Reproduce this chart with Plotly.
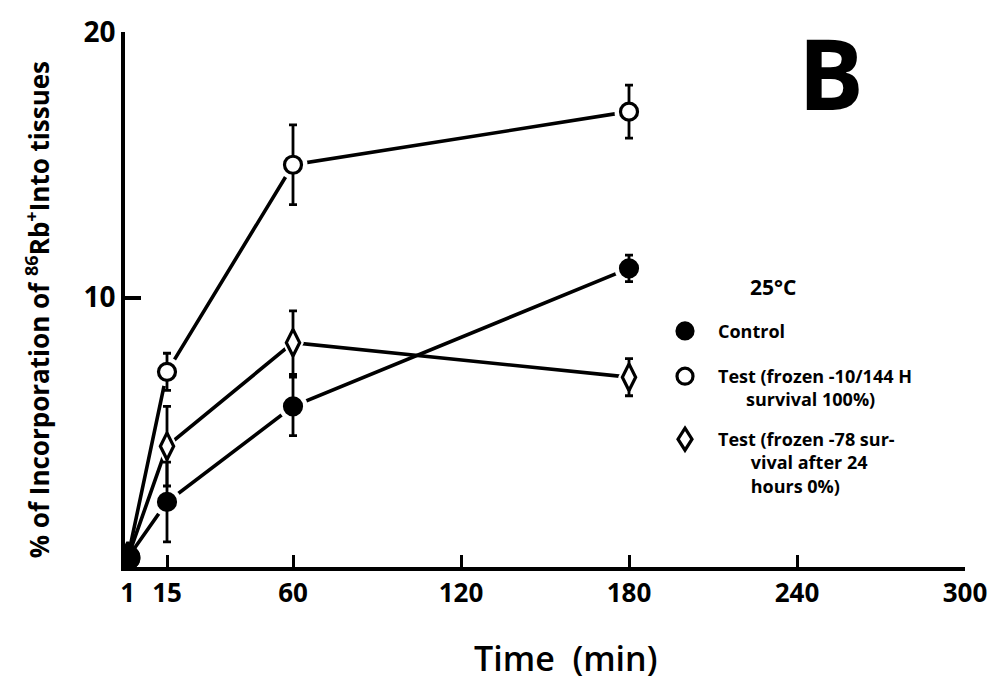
import plotly.graph_objects as go

# ---- data ----
times = [1, 15, 60, 180]
control = [0.2, 2.3, 5.9, 11.1]
control_err = [0, 1.5, 1.1, 0.5]
test_m10 = [0.2, 7.2, 15.0, 17.0]
test_m10_err = [0, 0.7, 1.5, 1.0]
test_m78 = [0.2, 4.4, 8.3, 7.0]
test_m78_err = [0, 1.5, 1.2, 0.7]

x_tickvals = [1, 15, 60, 120, 180, 240, 300]
x_ticktext = ["1", "15", "60", "120", "180", "240", "300"]
y_tickvals = [10, 20]
y_ticktext = ["10", "20"]

FONT = "Open Sans"
BLACK = "#000000"
NB = "\u00a0"

fig = go.Figure()

series = [
    (control, control_err, "circle", BLACK, 17),
    (test_m10, test_m10_err, "circle", "#ffffff", 17),
    (test_m78, test_m78_err, "diamond-tall", "#ffffff", 19),
]

# connecting lines
for ys, errs, sym, fill, sz in series:
    fig.add_trace(go.Scatter(x=times, y=ys, mode="lines", opacity=1,
                             line=dict(color=BLACK, width=3.6),
                             showlegend=False, hoverinfo="skip"))
# white halos to create gaps between lines and markers
for ys, errs, sym, fill, sz in series:
    fig.add_trace(go.Scatter(x=times[1:], y=ys[1:], mode="markers", opacity=1,
                             marker=dict(symbol=sym, size=sz + 12, color="#ffffff",
                                         opacity=1, line=dict(width=0)),
                             showlegend=False, hoverinfo="skip"))
# markers with error bars
for ys, errs, sym, fill, sz in series:
    colors = [BLACK] + [fill] * (len(ys) - 1)
    sizes = [22] + [sz] * (len(ys) - 1)
    fig.add_trace(go.Scatter(x=times, y=ys, mode="markers", opacity=1,
                             marker=dict(symbol=sym, size=sizes, color=colors,
                                         opacity=1,
                                         line=dict(color=BLACK, width=3.2)),
                             error_y=dict(type="data", array=errs, visible=True,
                                          color=BLACK, thickness=2.8, width=4),
                             showlegend=False, hoverinfo="skip"))

# ---- legend (manual) ----
L, R, T, B = 125, 965, 23, 567
def px(x):
    return (x - L) / (R - L)
def py(y):
    return (B - y) / (B - T)

shapes = []
sx = px(685)
for yy, kind in [(327, "filled"), (373, "open"), (437, "diamond")]:
    if kind == "diamond":
        shapes.append(dict(type="path", xref="paper", yref="paper",
                           xsizemode="pixel", ysizemode="pixel",
                           xanchor=sx, yanchor=py(yy),
                           path="M 0 11 L 7 0 L 0 -11 L -7 0 Z",
                           fillcolor="#ffffff", line=dict(color=BLACK, width=3.2)))
    else:
        shapes.append(dict(type="circle", xref="paper", yref="paper",
                           xsizemode="pixel", ysizemode="pixel",
                           xanchor=sx, yanchor=py(yy),
                           x0=-8, x1=8, y0=-8, y1=8,
                           fillcolor=BLACK if kind == "filled" else "#ffffff",
                           line=dict(color=BLACK, width=3.2)))

annotations = []
def txt(x, y, s, size=18, xanchor="left", yanchor="top"):
    annotations.append(dict(x=px(x), y=py(y), xref="paper", yref="paper",
                            text=s, showarrow=False, xanchor=xanchor,
                            yanchor=yanchor, align="left",
                            font=dict(family=FONT, size=size, color=BLACK,
                                      weight="bold")))

txt(773, 266, "25°C", size=21, xanchor="center")
txt(716, 313, "Control")
txt(716, 359, "Test (frozen -10/144 H<br>" + NB * 6 + "survival 100%)")
txt(716, 423, "Test (frozen -78 sur-<br>" + NB * 7 + "vival after 24<br>"
    + NB * 7 + "hours 0%)")

# panel letter
annotations.append(dict(x=px(831), y=py(77), xref="paper", yref="paper",
                        text="B", showarrow=False, xanchor="center",
                        yanchor="middle", yshift=13,
                        font=dict(family=FONT, size=98, color=BLACK,
                                  weight="bold")))

# axis titles
annotations.append(dict(x=px(38), y=py(306), xref="paper", yref="paper",
                        text="% of Incorporation of <sup>86</sup>Rb<sup>+</sup>Into tissues",
                        textangle=-90, showarrow=False, xanchor="center",
                        yanchor="middle",
                        font=dict(family=FONT, size=26, color=BLACK,
                                  weight="bold")))
annotations.append(dict(x=px(565), y=py(660), xref="paper", yref="paper",
                        text="Time  (min)", showarrow=False, xanchor="center",
                        yanchor="middle",
                        font=dict(family=FONT, size=34, color=BLACK,
                                  weight=600)))

fig.update_layout(
    width=1006, height=682,
    margin=dict(l=L, r=1006 - R, t=T, b=682 - B),
    paper_bgcolor="white", plot_bgcolor="white",
    showlegend=False,
    shapes=shapes, annotations=annotations,
    xaxis=dict(range=[0, 300], tickvals=x_tickvals, ticktext=x_ticktext,
               ticks="inside", ticklen=12, tickwidth=3, tickcolor=BLACK,
               showline=True, linecolor=BLACK, linewidth=3.5,
               showgrid=False, zeroline=False,
               tickfont=dict(family=FONT, size=26, color=BLACK, weight="bold")),
    yaxis=dict(range=[-0.15, 20], tickvals=y_tickvals, ticktext=y_ticktext,
               ticks="inside", ticklen=16, tickwidth=3.5, tickcolor=BLACK,
               showline=True, linecolor=BLACK, linewidth=3.5,
               showgrid=False, zeroline=False,
               tickfont=dict(family=FONT, size=28, color=BLACK, weight="bold")),
)

fig.write_html("out.html")
